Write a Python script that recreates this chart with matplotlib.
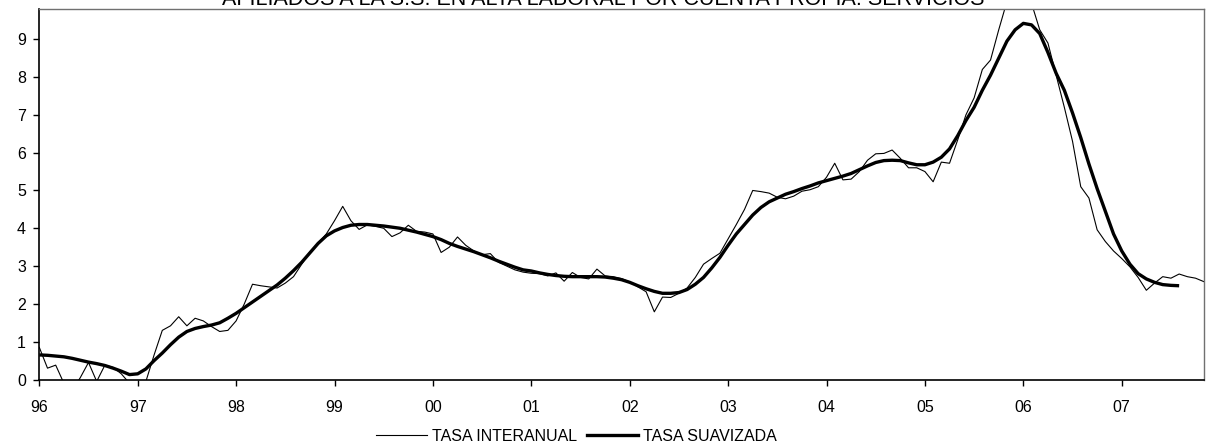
import numpy as np
import matplotlib
matplotlib.use("Agg")
import matplotlib.pyplot as plt
from matplotlib.lines import Line2D

plt.rcParams['font.family'] = ['Liberation Sans', 'DejaVu Sans']

# Monthly series, January 1996 onwards
tasa_interanual = [
    0.85, 0.30, 0.38, -0.10, -0.30, 0.05, 0.45, -0.05, 0.38, 0.32, 0.15, -0.10,
    -0.30, -0.05, 0.65, 1.30, 1.42, 1.66, 1.42, 1.62, 1.55, 1.40, 1.27, 1.30,
    1.55, 2.00, 2.52, 2.48, 2.45, 2.42, 2.55, 2.72, 3.05, 3.38, 3.60, 3.85,
    4.20, 4.58, 4.20, 3.97, 4.09, 4.05, 4.00, 3.78, 3.88, 4.08, 3.92, 3.90,
    3.85, 3.36, 3.50, 3.77, 3.55, 3.40, 3.30, 3.33, 3.10, 3.00, 2.90, 2.84,
    2.81, 2.80, 2.74, 2.82, 2.60, 2.83, 2.70, 2.66, 2.92, 2.74, 2.72, 2.67,
    2.58, 2.45, 2.32, 1.79, 2.18, 2.17, 2.28, 2.42, 2.70, 3.05, 3.20, 3.34,
    3.72, 4.10, 4.50, 5.00, 4.97, 4.93, 4.82, 4.78, 4.85, 4.98, 5.02, 5.10,
    5.35, 5.72, 5.28, 5.30, 5.50, 5.80, 5.97, 5.98, 6.07, 5.85, 5.60, 5.60,
    5.50, 5.23, 5.75, 5.72, 6.34, 7.00, 7.45, 8.20, 8.45, 9.25, 10.00, 10.40,
    10.40, 9.95, 9.25, 8.90, 8.05, 7.20, 6.30, 5.10, 4.80, 3.96, 3.65, 3.40,
    3.20, 2.98, 2.70, 2.36, 2.55, 2.72, 2.68, 2.79, 2.72, 2.68, 2.59,
]

tasa_suavizada = [
    0.65, 0.64, 0.62, 0.60, 0.56, 0.51, 0.46, 0.42, 0.37, 0.30, 0.22, 0.13,
    0.15, 0.28, 0.50, 0.70, 0.92, 1.12, 1.27, 1.35, 1.40, 1.44, 1.50, 1.62,
    1.75, 1.90, 2.05, 2.20, 2.35, 2.50, 2.68, 2.88, 3.10, 3.35, 3.60, 3.80,
    3.93, 4.02, 4.08, 4.10, 4.10, 4.08, 4.06, 4.03, 4.00, 3.95, 3.90, 3.84,
    3.78, 3.70, 3.60, 3.52, 3.45, 3.38, 3.30, 3.22, 3.13, 3.05, 2.97, 2.90,
    2.87, 2.82, 2.78, 2.75, 2.73, 2.72, 2.72, 2.72, 2.72, 2.71, 2.68, 2.64,
    2.57, 2.48, 2.40, 2.33, 2.28, 2.28, 2.30, 2.38, 2.52, 2.70, 2.95, 3.23,
    3.55, 3.85, 4.10, 4.35, 4.55, 4.70, 4.80, 4.90, 4.97, 5.05, 5.12, 5.20,
    5.26, 5.32, 5.38, 5.45, 5.55, 5.65, 5.74, 5.79, 5.80, 5.79, 5.73, 5.68,
    5.68, 5.75, 5.88, 6.10, 6.45, 6.85, 7.20, 7.65, 8.05, 8.50, 8.95, 9.25,
    9.42, 9.38, 9.15, 8.65, 8.10, 7.65, 7.05, 6.40, 5.70, 5.05, 4.45, 3.85,
    3.40, 3.05, 2.80, 2.66, 2.57, 2.51, 2.49, 2.48,
]

year_ticks = list(range(1996, 2008))
year_labels = ['96', '97', '98', '99', '00', '01', '02', '03', '04', '05', '06', '07']
y_ticks = list(range(0, 10))

t_int = 1996 + np.arange(len(tasa_interanual)) / 12.0
t_suav = 1996 + np.arange(len(tasa_suavizada)) / 12.0

fig = plt.figure(figsize=(12.06, 4.48), dpi=100)
ax = fig.add_axes([39.3 / 1206, 1 - 379.5 / 448, (1204 - 39.3) / 1206, (379.5 - 9) / 448])

ax.plot(t_int, tasa_interanual, color='black', lw=0.8, label='TASA INTERANUAL')
ax.plot(t_suav, tasa_suavizada, color='black', lw=2.4, label='TASA SUAVIZADA',
        solid_capstyle='butt')

ax.set_xlim(1996, 2007.836)
ax.set_ylim(0, 9.8)
ax.set_xticks(year_ticks)
ax.set_xticklabels(year_labels)
ax.set_yticks(y_ticks)

ax.tick_params(axis='x', direction='out', length=4, width=1, pad=11, labelsize=11.5)
ax.tick_params(axis='y', direction='out', length=4.5, width=1, pad=5, labelsize=11.5)

for side in ('left', 'bottom'):
    ax.spines[side].set_color('black')
    ax.spines[side].set_linewidth(1.2)
for side in ('top', 'right'):
    ax.spines[side].set_color('#707070')
    ax.spines[side].set_linewidth(1.0)

fig.text(0.5, 1 - 5 / 448, 'AFILIADOS A LA S.S. EN ALTA LABORAL POR CUENTA PROPIA. SERVICIOS',
         ha='center', va='baseline', fontsize=15.5)

handles = [Line2D([], [], color='black', lw=0.8), Line2D([], [], color='black', lw=2.4)]
fig.legend(handles, ['TASA INTERANUAL', 'TASA SUAVIZADA'], ncol=2, loc='center',
           bbox_to_anchor=(576.5 / 1206, 1 - 436 / 448), frameon=False, fontsize=11.5,
           handlelength=3.2, handletextpad=0.3, columnspacing=0.6, borderpad=0)

fig.savefig('out.png', dpi=100)
